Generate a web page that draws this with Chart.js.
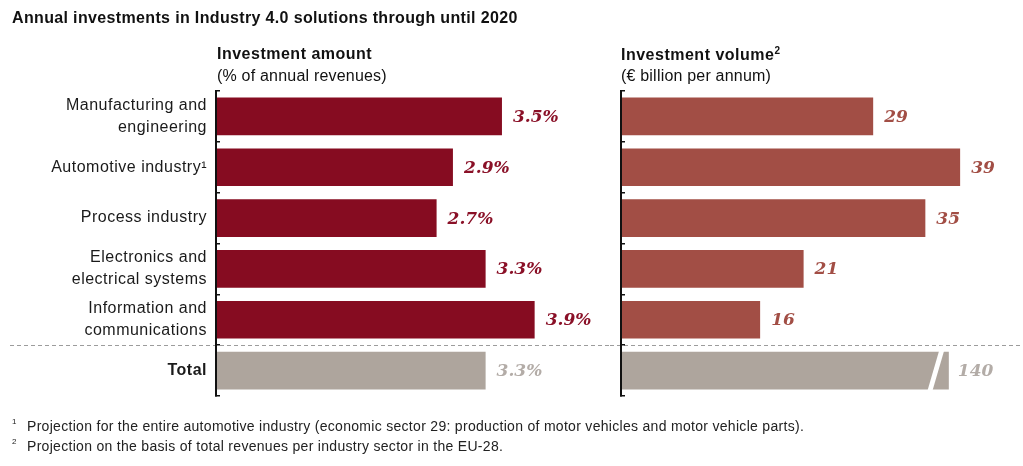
<!DOCTYPE html>
<html><head><meta charset="utf-8">
<script src="https://cdn.jsdelivr.net/npm/chart.js@4.4.1/dist/chart.umd.min.js"></script>
<style>
body{margin:0;width:1023px;height:466px;background:#fff;position:relative;overflow:hidden;font-family:"Liberation Sans",Arial,sans-serif;color:#111;}
.t{position:absolute;white-space:nowrap;line-height:1;}
#title{left:12px;top:10px;font-size:16px;font-weight:bold;letter-spacing:0.35px;}
.h1{font-size:16px;font-weight:bold;top:46px;letter-spacing:0.5px;}
.h2{font-size:16px;top:67.5px;letter-spacing:0.2px;}
.fn{font-size:14px;left:27px;color:#222;letter-spacing:0.3px;}
.fn sup{position:absolute;font-size:8px;left:-15px;top:-1px;}
#lw{position:absolute;left:0;top:0;width:610px;height:466px;}
#rw{position:absolute;left:610px;top:0;width:413px;height:466px;}
</style>
</head><body>
<div id="lw"><canvas id="cl" width="610" height="466"></canvas></div>
<div id="rw"><canvas id="cr" width="413" height="466"></canvas></div>
<div class="t" id="title">Annual investments in Industry 4.0 solutions through until 2020</div>
<div class="t h1" style="left:217px">Investment amount</div>
<div class="t h2" style="left:217px">(% of annual revenues)</div>
<div class="t h1" style="left:621px">Investment volume<span style="font-size:10px;vertical-align:6px">2</span></div>
<div class="t h2" style="left:621px">(€ billion per annum)</div>
<div class="t fn" style="top:419px"><sup>1</sup>Projection for the entire automotive industry (economic sector 29: production of motor vehicles and motor vehicle parts).</div>
<div class="t fn" style="top:438.5px"><sup>2</sup>Projection on the basis of total revenues per industry sector in the EU-28.</div>
<script>
// ---- data ----
const categories = [["Manufacturing and","engineering"],"Automotive industry\u00B9","Process industry",["Electronics and","electrical systems"],["Information and","communications"],"Total"];
const amountPct = [3.5, 2.9, 2.7, 3.3, 3.9, 3.3];          // % of annual revenues
const volumeBn = [29, 39, 35, 21, 16, 140];               // € billion per annum
const totalShownAt = 37.7;                               // axis value at which the broken 140 bar is drawn

const TOTAL = 5;
const leftColors = amountPct.map((v,i)=> i===TOTAL ? '#aea59d' : '#860c21');
const rightColors = volumeBn.map((v,i)=> i===TOTAL ? '#aea59d' : '#a24e45');
const leftLabelColors = amountPct.map((v,i)=> i===TOTAL ? '#b3aca7' : '#8a1027');
const rightLabelColors = volumeBn.map((v,i)=> i===TOTAL ? '#b3aca7' : '#a24e45');
const volumeShown = volumeBn.map((v,i)=> i===TOTAL ? totalShownAt : v);
const broken = volumeBn.map((v,i)=> v !== volumeShown[i]);

const sans = '"Liberation Sans", Arial, sans-serif';
const serif = '"DejaVu Serif", serif';

function dashPlugin(x0){
  return {id:'dash', afterDatasetsDraw(chart){
    const ys = chart.scales.y, ctx = chart.ctx;
    const y = Math.round((ys.getPixelForValue(4)+ys.getPixelForValue(5))/2)+0.5;
    ctx.save(); ctx.letterSpacing='0px';
    ctx.strokeStyle='#9c9c9c'; ctx.lineWidth=1.2; ctx.setLineDash([4,3]);
    ctx.beginPath(); ctx.moveTo(x0,y); ctx.lineTo(chart.width,y); ctx.stroke();
    ctx.restore();
  }};
}
function labelPlugin(raw, fmt, colors, offset, brk){
  return {id:'vals', afterDatasetsDraw(chart){
    const meta = chart.getDatasetMeta(0), ctx = chart.ctx;
    ctx.save(); ctx.letterSpacing='0px';
    ctx.font = 'italic bold 17px '+serif; ctx.textBaseline='middle'; ctx.textAlign='left';
    meta.data.forEach((bar,i)=>{
      ctx.fillStyle = colors[i];
      ctx.fillText(fmt(raw[i]), bar.x + (brk && brk[i] ? offset-2 : offset), bar.y+1);
    });
    ctx.restore();
  }};
}
const breakPlugin = {id:'brk', afterDatasetsDraw(chart){
  const meta = chart.getDatasetMeta(0), ctx = chart.ctx;
  meta.data.forEach((bar,i)=>{
    if (!broken[i]) return;
    const h = bar.height, top = bar.y - h/2 - 6, bot = bar.y + h/2 + 1;
    const slope = 11/h;
    const e = bar.x;
    const xt = e - 10 + 6*slope, xb = e - 21 - 1*slope;
    ctx.save(); ctx.fillStyle='#fff';
    ctx.beginPath();
    ctx.moveTo(xt, top); ctx.lineTo(xt+5, top); ctx.lineTo(xb+5, bot); ctx.lineTo(xb, bot);
    ctx.closePath(); ctx.fill(); ctx.restore();
  });
}};
const spacingPlugin = {id:'sp', beforeDraw(chart){ chart.ctx.letterSpacing='0.5px'; }};

function yAxis(width, showLabels){
  return {
    type:'category', position:'left',
    grid:{offset:true, drawOnChartArea:false, drawTicks:true, tickLength:-4, tickColor:'#111', lineWidth:1.5, z:1},
    border:{display:true, color:'#111', width:2, z:1},
    ticks:{display:showLabels, padding:13, color:'#1a1a1a',
      font:(c)=>({family:sans, size:16, lineHeight:1.375, weight: c.index===TOTAL ? 'bold':'normal'})},
    afterFit(s){ s.width = width; }
  };
}
const common = {
  indexAxis:'y', responsive:false, animation:false,
  plugins:{legend:{display:false}, tooltip:{enabled:false}},
};

new Chart(document.getElementById('cl'), {
  type:'bar',
  data:{labels:categories, datasets:[{data:amountPct, backgroundColor:leftColors, barPercentage:0.74, categoryPercentage:1}]},
  options:Object.assign({}, common, {
    layout:{padding:{left:0,right:10,top:91,bottom:70}},
    scales:{ x:{display:false, min:0, max:4.7}, y:yAxis(216,true) }
  }),
  plugins:[spacingPlugin, dashPlugin(10), labelPlugin(amountPct, v=>v.toFixed(1)+'%', leftLabelColors, 11, null)]
});

new Chart(document.getElementById('cr'), {
  type:'bar',
  data:{labels:categories, datasets:[{data:volumeShown, backgroundColor:rightColors, barPercentage:0.74, categoryPercentage:1}]},
  options:Object.assign({}, common, {
    layout:{padding:{left:0,right:2,top:91,bottom:70}},
    scales:{ x:{display:false, min:0, max:46}, y:yAxis(11,false) }
  }),
  plugins:[dashPlugin(0), breakPlugin, labelPlugin(volumeBn, v=>String(v), rightLabelColors, 11, broken)]
});
</script>
</body></html>
